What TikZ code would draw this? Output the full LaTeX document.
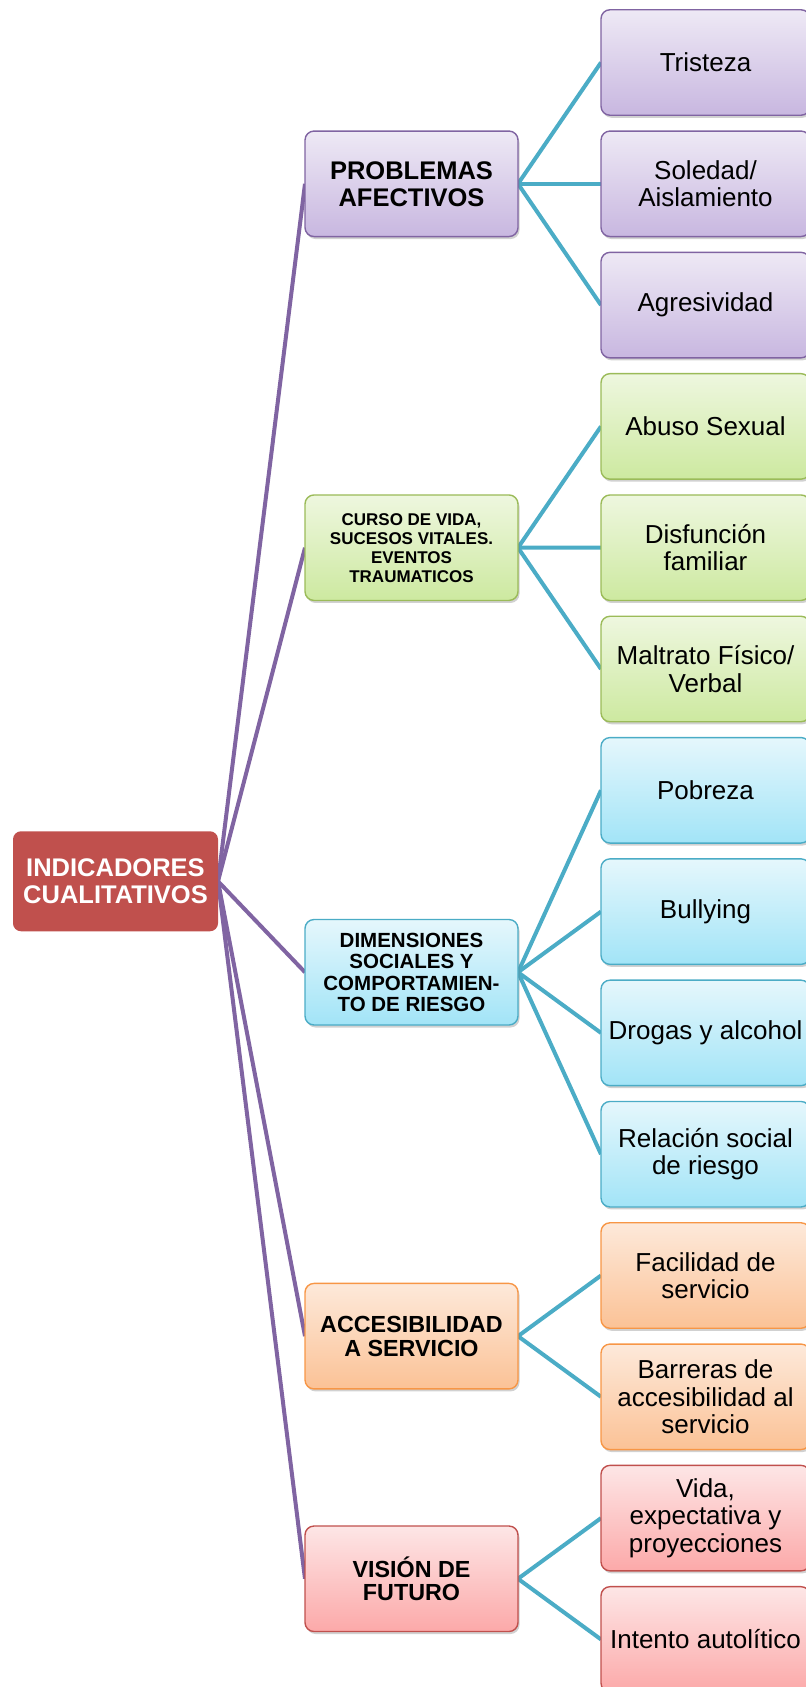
\documentclass[tikz,border=0pt]{standalone}
\usepackage{fontspec}
\setmainfont{Liberation Sans}
\usetikzlibrary{positioning,calc,shadows,backgrounds}
\definecolor{mapRed}{HTML}{C0504D}
\definecolor{mapPurple}{HTML}{8064A2}
\definecolor{mapGreen}{HTML}{9BBB59}
\definecolor{mapTeal}{HTML}{4BACC6}
\definecolor{mapOrange}{HTML}{F79646}
\definecolor{purpTop}{HTML}{EEE9F5}
\definecolor{purpBot}{HTML}{C8B7E0}
\definecolor{greenTop}{HTML}{EEF7DF}
\definecolor{greenBot}{HTML}{CDE9A0}
\definecolor{tealTop}{HTML}{E5F7FC}
\definecolor{tealBot}{HTML}{A2E4F7}
\definecolor{orangeTop}{HTML}{FDE9DA}
\definecolor{orangeBot}{HTML}{FBC296}
\definecolor{redTop}{HTML}{FDE6E6}
\definecolor{redBot}{HTML}{FCA9A9}

\begin{document}
\begin{tikzpicture}[
node distance=15.8pt and 83pt,
box/.style={rounded corners=9pt, line width=1.4pt, align=center, inner sep=0pt, outer sep=0pt, drop shadow={shadow xshift=1.5pt, shadow yshift=-2.5pt, opacity=0.3, fill=black!60}},
leaf/.style={box, minimum width=209pt, minimum height=105.5pt, font=\fontsize{26}{27.5}\selectfont},
branch/.style={box, minimum width=213pt, minimum height=105.5pt},
rootbox/.style={rounded corners=8pt, fill=mapRed, text=white, align=center, inner sep=0pt, outer sep=0pt, minimum width=205pt, minimum height=100pt, font=\bfseries\fontsize{25.5}{27}\selectfont},
purp/.style={draw=mapPurple, top color=purpTop, bottom color=purpBot},
grn/.style={draw=mapGreen, top color=greenTop, bottom color=greenBot},
tealc/.style={draw=mapTeal, top color=tealTop, bottom color=tealBot},
orng/.style={draw=mapOrange, top color=orangeTop, bottom color=orangeBot},
redc/.style={draw=mapRed, top color=redTop, bottom color=redBot},
trunk/.style={draw=mapPurple, line width=4pt},
twig/.style={draw=mapTeal, line width=4pt}
]
\useasboundingbox (0,0) rectangle (806pt,-1687pt);

% Leaves (right column)
\node[leaf, purp] (P1) at (705.5pt,-62.5pt) {Tristeza};
\node[leaf, purp, below=of P1] (P2) {Soledad/\\Aislamiento};
\node[leaf, purp, below=of P2] (P3) {Agresividad};
\node[leaf, grn, below=of P3] (C1) {Abuso Sexual};
\node[leaf, grn, below=of C1] (C2) {Disfunción\\familiar};
\node[leaf, grn, below=of C2] (C3) {Maltrato Físico/\\Verbal};
\node[leaf, tealc, below=of C3] (D1) {Pobreza};
\node[leaf, tealc, below=of D1] (D2) {Bullying};
\node[leaf, tealc, below=of D2] (D3) {Drogas y alcohol};
\node[leaf, tealc, below=of D3] (D4) {Relación social\\de riesgo};
\node[leaf, orng, below=of D4] (A1) {Facilidad de\\servicio};
\node[leaf, orng, below=of A1] (A2) {Barreras de\\accesibilidad al\\servicio};
\node[leaf, redc, below=of A2] (V1) {Vida,\\expectativa y\\proyecciones};
\node[leaf, redc, below=of V1] (V2) {Intento autolítico};

% Branches (middle column), centred on their groups
\coordinate (gP) at ($(P1.west)!0.5!(P3.west)$);
\coordinate (gC) at ($(C1.west)!0.5!(C3.west)$);
\coordinate (gD) at ($(D1.west)!0.5!(D4.west)$);
\coordinate (gA) at ($(A1.west)!0.5!(A2.west)$);
\coordinate (gV) at ($(V1.west)!0.5!(V2.west)$);
\node[branch, purp, left=of gP, font=\bfseries\fontsize{25.5}{27}\selectfont] (P0) {PROBLEMAS\\AFECTIVOS};
\node[branch, grn, left=of gC, font=\bfseries\fontsize{17}{19}\selectfont] (C0) {CURSO DE VIDA,\\SUCESOS VITALES.\\EVENTOS\\TRAUMATICOS};
\node[branch, tealc, left=of gD, font=\bfseries\fontsize{20.5}{21.5}\selectfont] (D0) {DIMENSIONES\\SOCIALES Y\\COMPORTAMIEN-\\TO DE RIESGO};
\node[branch, orng, left=of gA, font=\bfseries\fontsize{23.3}{23.8}\selectfont] (A0) {ACCESIBILIDAD\\A SERVICIO};
\node[branch, redc, left=of gV, font=\bfseries\fontsize{23.3}{23.8}\selectfont] (V0) {VISIÓN DE\\FUTURO};

% Root
\coordinate (gR) at ($(P0.west)!0.5!(V0.west)$);
\node[rootbox, left=87pt of gR] (R) {INDICADORES\\CUALITATIVOS};

% Connectors
\begin{scope}[on background layer]
\draw[trunk] (R.east) -- (P0.west);
\draw[trunk] (R.east) -- (C0.west);
\draw[trunk] (R.east) -- (D0.west);
\draw[trunk] (R.east) -- (A0.west);
\draw[trunk] (R.east) -- (V0.west);
\draw[twig] (P0.east) -- (P1.west); \draw[twig] (P0.east) -- (P2.west); \draw[twig] (P0.east) -- (P3.west);
\draw[twig] (C0.east) -- (C1.west); \draw[twig] (C0.east) -- (C2.west); \draw[twig] (C0.east) -- (C3.west);
\draw[twig] (D0.east) -- (D1.west); \draw[twig] (D0.east) -- (D2.west); \draw[twig] (D0.east) -- (D3.west); \draw[twig] (D0.east) -- (D4.west);
\draw[twig] (A0.east) -- (A1.west); \draw[twig] (A0.east) -- (A2.west);
\draw[twig] (V0.east) -- (V1.west); \draw[twig] (V0.east) -- (V2.west);
\end{scope}

\end{tikzpicture}
\end{document}
